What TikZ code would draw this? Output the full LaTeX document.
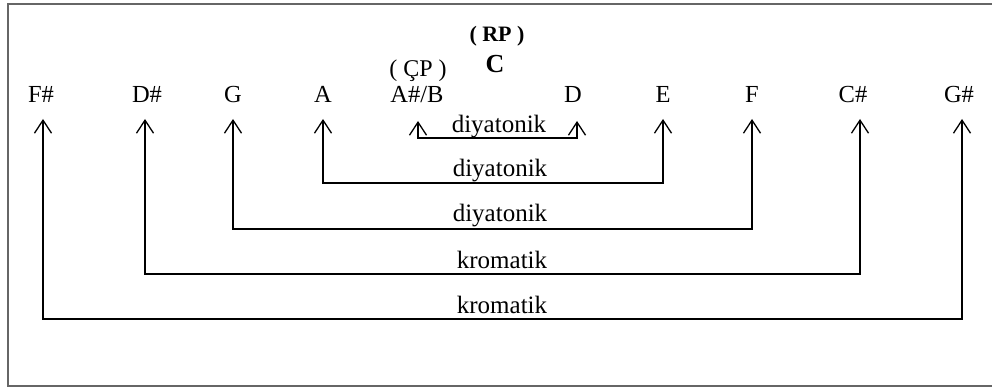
\documentclass[tikz,border=0pt]{standalone}
\usepackage{fontspec}
\setmainfont{Liberation Serif}
\usetikzlibrary{arrows.meta}
\begin{document}
\begin{tikzpicture}[x=1pt,y=-1pt,
  note/.style={anchor=base,inner sep=0pt,font=\fontsize{24.5}{27}\selectfont},
  word/.style={anchor=base,inner sep=0pt,font=\fontsize{25}{28}\selectfont},
  link/.style={line width=1.4pt,{Straight Barb[length=13pt,width=17pt,line width=1.3pt]}-{Straight Barb[length=13pt,width=17pt,line width=1.3pt]}}]
\useasboundingbox (0,0) rectangle (992,387);
\draw[line width=1.3pt,black!60] (8,4) rectangle (1000,386);
% labels
\node[note] (fs) at (41,103) {F\#};
\node[note] (ds) at (147,103) {D\#};
\node[note] (g) at (233,103) {G};
\node[note] (a) at (323,103) {A};
\node[note] (ab) at (417,103) {A\#/B};
\node[note] (d) at (573,103) {D};
\node[note] (e) at (663,103) {E};
\node[note] (f) at (752,103) {F};
\node[note] (cs) at (853,103) {C\#};
\node[note] (gs) at (959,103) {G\#};
\node[anchor=base,inner sep=0pt,font=\fontsize{22}{26}\selectfont\bfseries] (rp) at (497,42) {( RP )};
\node[anchor=base,inner sep=0pt,font=\fontsize{26}{29}\selectfont\bfseries] (c) at (495,73) {C};
\node[anchor=base,inner sep=0pt,font=\fontsize{24}{27}\selectfont] (cp) at (418,77) {( ÇP )};
% arrow tips
\coordinate (fsT) at (43,119);
\coordinate (dsT) at (145,119);
\coordinate (gT) at (233,119);
\coordinate (aT) at (323,119);
\coordinate (abT) at (418,121);
\coordinate (dT) at (577,121);
\coordinate (eT) at (663,119);
\coordinate (fT) at (752,119);
\coordinate (csT) at (860,119);
\coordinate (gsT) at (962,119);
% connectors
\draw[link] (abT) -- (418,138) -- (577,138) -- (dT);
\draw[link] (aT) -- (323,183) -- (663,183) -- (eT);
\draw[link] (gT) -- (233,229) -- (752,229) -- (fT);
\draw[link] (dsT) -- (145,274) -- (860,274) -- (csT);
\draw[link] (fsT) -- (43,319) -- (962,319) -- (gsT);
% words
\node[word] (w1) at (499,133) {diyatonik};
\node[word] (w2) at (500,177) {diyatonik};
\node[word] (w3) at (500,222) {diyatonik};
\node[word] (w4) at (502,268) {kromatik};
\node[word] (w5) at (502,313) {kromatik};
\end{tikzpicture}
\end{document}
